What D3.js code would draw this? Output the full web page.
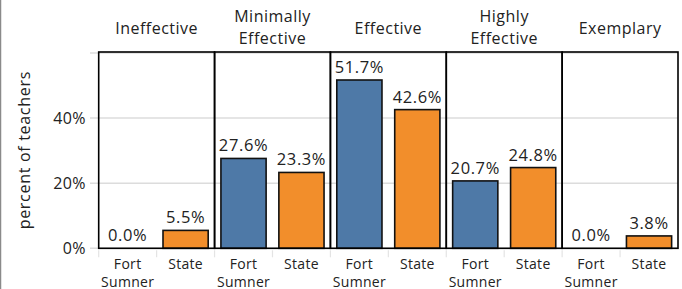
<!DOCTYPE html>
<meta charset="utf-8">
<style>
body { margin: 0; background: #fff; }
text { font-family: "Open Sans", sans-serif; fill: #222; }
.grid line { stroke: #dcdcdc; stroke-width: 1.5; }
.frame { fill: none; stroke: #000; stroke-width: 1.6; }
.bar { stroke: #111; stroke-width: 1.6; }
</style>
<div class="chart"></div>
<script src="https://cdn.jsdelivr.net/npm/d3@7"></script>
<script>

var categories = ["Ineffective", "Minimally Effective", "Effective", "Highly Effective", "Exemplary"];
var groups = ["Fort Sumner", "State"];
var fortSumner = [0.0, 27.6, 51.7, 20.7, 0.0];
var state = [5.5, 23.3, 42.6, 24.8, 3.8];
var yTicks = [0, 20, 40, 60];
var yTickLabels = ["0%", "20%", "40%", ""];

var width = 682, height = 289;
var plotLeft = 98.7, plotRight = 678, plotTop = 52, plotBottom = 248.3;
var colors = {"Fort Sumner": "#4e79a7", "State": "#f28e2b"};

var svg = d3.select(".chart").append("svg")
    .attr("width", width)
    .attr("height", height);

// page edge line
svg.append("line")
    .attr("x1", 0.5).attr("x2", 0.5)
    .attr("y1", 0).attr("y2", height)
    .style("stroke", "#8a8a8a").style("stroke-width", 1.5);

var x0 = d3.scaleBand().domain(categories).range([plotLeft, plotRight]);
var x1 = d3.scaleBand().domain(groups).range([0, x0.bandwidth()]).paddingInner(0.22).paddingOuter(0.11);
var xb = d3.scaleBand().domain(groups).range([0, x0.bandwidth()]);
var y = d3.scaleLinear().domain([0, 60.3]).range([plotBottom, plotTop]);

// gridlines
svg.append("g").attr("class", "grid")
    .selectAll("line")
    .data(yTicks)
    .enter().append("line")
    .attr("x1", 90).attr("x2", plotRight)
    .attr("y1", function(d) { return y(d); })
    .attr("y2", function(d) { return y(d); });

// y tick labels
svg.append("g")
    .selectAll("text")
    .data(yTicks)
    .enter().append("text")
    .attr("x", 86)
    .attr("y", function(d) { return y(d) + 5.5; })
    .style("text-anchor", "end")
    .style("font-size", "16px")
    .style("letter-spacing", "0.4px")
    .text(function(d, i) { return yTickLabels[i]; });

svg.append("text")
    .attr("transform", "translate(30," + ((plotTop + plotBottom) / 2) + ") rotate(-90)")
    .style("text-anchor", "middle")
    .style("font-size", "16px")
    .style("letter-spacing", "0.7px")
    .text("percent of teachers");

var data = categories.map(function(c, i) {
  return {cat: c, values: [
    {group: "Fort Sumner", value: fortSumner[i]},
    {group: "State", value: state[i]}
  ]};
});

var panel = svg.append("g")
    .selectAll("g")
    .data(data)
    .enter().append("g")
    .attr("transform", function(d) { return "translate(" + x0(d.cat) + ",0)"; });

// band separators below axis
panel.selectAll(".sep")
    .data(groups)
    .enter().append("line")
    .attr("class", "sep")
    .attr("x1", function(g) { return xb(g); })
    .attr("x2", function(g) { return xb(g); })
    .attr("y1", plotBottom + 2).attr("y2", plotBottom + 9)
    .style("stroke", "#e4e4e4").style("stroke-width", 1.2);

panel.selectAll(".bar")
    .data(function(d) { return d.values.filter(function(v) { return v.value > 0; }); })
    .enter().append("rect")
    .attr("class", "bar")
    .attr("x", function(v) { return x1(v.group); })
    .attr("width", x1.bandwidth())
    .attr("y", function(v) { return y(v.value); })
    .attr("height", function(v) { return plotBottom - y(v.value); })
    .attr("fill", function(v) { return colors[v.group]; });

panel.selectAll(".val")
    .data(function(d) { return d.values; })
    .enter().append("text")
    .attr("class", "val")
    .attr("x", function(v) { return xb(v.group) + xb.bandwidth() / 2; })
    .attr("y", function(v) { return y(v.value) - 7; })
    .style("text-anchor", "middle")
    .style("font-size", "16.5px")
    .style("letter-spacing", "0.6px")
    .text(function(v) { return v.value.toFixed(1) + "%"; });

// x labels
panel.selectAll(".xl")
    .data(groups)
    .enter().append("text")
    .attr("class", "xl")
    .attr("x", function(g) { return xb(g) + xb.bandwidth() / 2; })
    .attr("y", 269)
    .style("text-anchor", "middle")
    .style("font-size", "14px")
    .style("letter-spacing", "0.3px")
    .each(function(g) {
      var words = g.split(" ");
      var t = d3.select(this);
      words.forEach(function(w, i) {
        t.append("tspan")
          .attr("x", xb(g) + xb.bandwidth() / 2)
          .attr("dy", i ? 17.5 : 0)
          .text(w);
      });
    });

// panel headers
panel.append("text")
    .attr("x", x0.bandwidth() / 2)
    .style("text-anchor", "middle")
    .style("font-size", "16px")
    .style("letter-spacing", "0.5px")
    .each(function(d) {
      var words = d.cat.split(" ");
      var t = d3.select(this);
      var y0 = words.length > 1 ? 22 : 33.5;
      t.attr("y", y0);
      words.forEach(function(w, i) {
        t.append("tspan")
          .attr("x", x0.bandwidth() / 2)
          .attr("dy", i ? 21.5 : 0)
          .text(w);
      });
    });

// panel frames
panel.append("rect")
    .attr("class", "frame")
    .attr("x", 0).attr("y", plotTop)
    .attr("width", x0.bandwidth())
    .attr("height", plotBottom - plotTop);

</script>
